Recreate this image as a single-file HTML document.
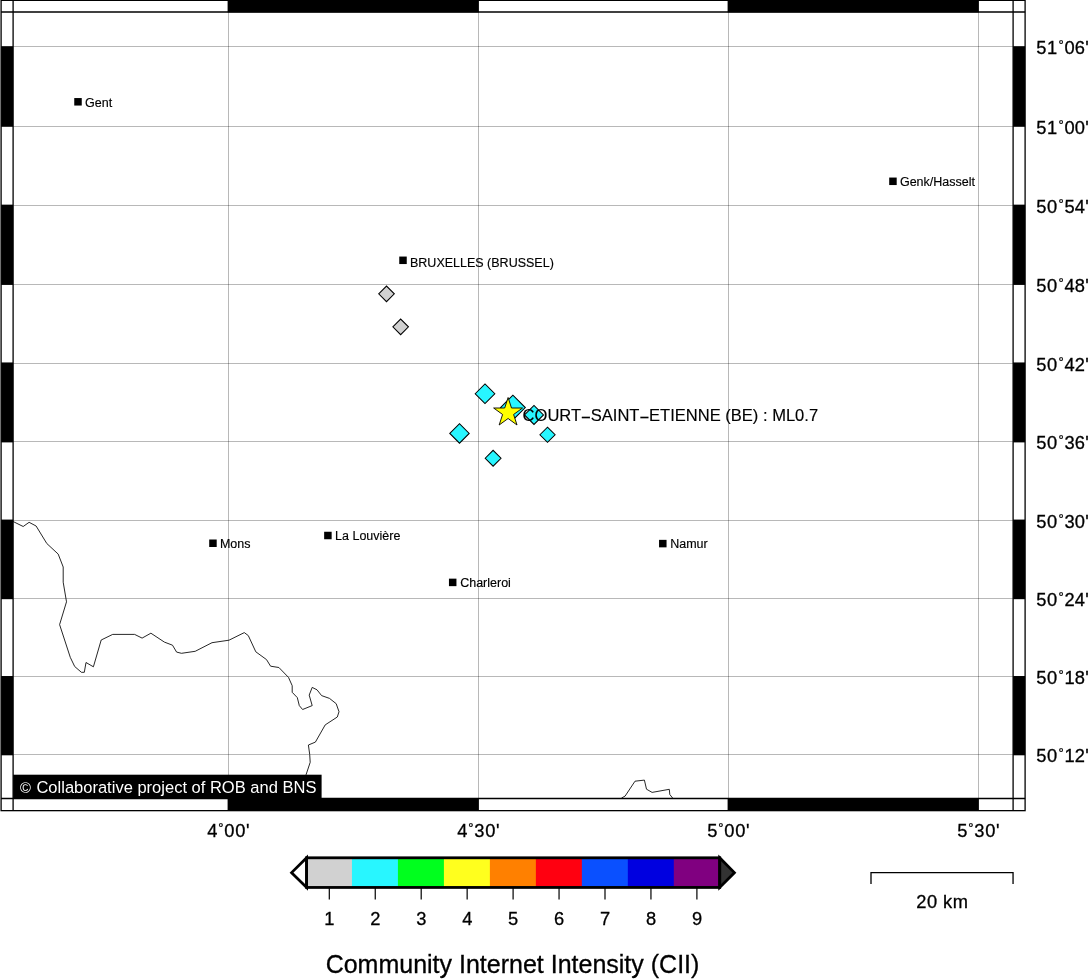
<!DOCTYPE html>
<html lang="en"><head><meta charset="utf-8"><title>Community Internet Intensity map</title>
<style>html,body{margin:0;padding:0;background:#fff;overflow:hidden}svg{display:block}text{font-family:"Liberation Sans",sans-serif;fill:#000}.b{stroke:#000;stroke-width:.3px}.c{stroke:#000;stroke-width:.15px}</style></head><body>
<svg width="1088" height="979" viewBox="0 0 1088 979">
<rect width="1088" height="979" fill="#fff"/>
<g stroke="#000" stroke-opacity="0.28" stroke-width="1" fill="none">
<line x1="13.1" y1="46.50" x2="1013.1" y2="46.50"/>
<line x1="13.1" y1="126.50" x2="1013.1" y2="126.50"/>
<line x1="13.1" y1="205.50" x2="1013.1" y2="205.50"/>
<line x1="13.1" y1="284.50" x2="1013.1" y2="284.50"/>
<line x1="13.1" y1="363.50" x2="1013.1" y2="363.50"/>
<line x1="13.1" y1="441.50" x2="1013.1" y2="441.50"/>
<line x1="13.1" y1="520.50" x2="1013.1" y2="520.50"/>
<line x1="13.1" y1="598.50" x2="1013.1" y2="598.50"/>
<line x1="13.1" y1="676.50" x2="1013.1" y2="676.50"/>
<line x1="13.1" y1="754.50" x2="1013.1" y2="754.50"/>
<line x1="228.50" y1="12.0" x2="228.50" y2="798.5"/>
<line x1="478.50" y1="12.0" x2="478.50" y2="798.5"/>
<line x1="728.50" y1="12.0" x2="728.50" y2="798.5"/>
<line x1="978.50" y1="12.0" x2="978.50" y2="798.5"/>
</g>
<g stroke="#000" stroke-width="0.85" fill="none" stroke-linejoin="round"><polyline points="13.1,521.5 14.1,522.0 23.2,526.5 29.1,522.3 36.1,526.0 46.8,543.5 58.2,554.1 63.2,567.0 63.2,582.2 66.5,601.8 59.6,624.6 70.3,657.4 74.7,666.5 81.4,672.3 84.3,672.3 86.0,662.5 93.4,666.8 101.2,640.0 112.7,634.4 134.6,634.4 142.1,638.1 150.9,633.2 164.4,642.1 172.5,645.2 176.6,652.1 181.5,653.3 195.2,651.3 212.0,642.7 229.0,640.2 244.3,632.6 248.3,635.6 255.8,651.8 266.5,659.6 270.6,666.2 278.9,667.5 288.5,677.4 292.2,685.7 292.2,692.3 297.3,697.6 299.3,705.6 302.6,709.5 312.2,705.6 309.2,695.1 312.2,687.4 317.0,689.8 321.6,695.6 329.5,698.4 336.2,703.7 339.0,711.7 337.3,717.0 325.2,724.9 315.4,742.1 308.4,745.0 309.7,754.4 310.2,762.3 306.1,774.6 305.4,776.7"/><polyline points="621.5,798.0 625.1,796.1 635.0,781.2 644.4,780.1 646.5,789.2 652.1,792.4 669.3,789.3 669.8,794.5 672.6,798.0"/></g>
<rect x="74.25" y="98.05" width="7.5" height="7.5" fill="#000"/>
<text class="c" x="85.00" y="107.40" font-size="12.5">Gent</text>
<rect x="889.20" y="177.55" width="7.5" height="7.5" fill="#000"/>
<text class="c" x="899.95" y="185.90" font-size="12.5">Genk/Hasselt</text>
<rect x="399.25" y="256.55" width="7.5" height="7.5" fill="#000"/>
<text class="c" x="410.00" y="266.60" font-size="12.5">BRUXELLES (BRUSSEL)</text>
<rect x="209.20" y="539.50" width="7.5" height="7.5" fill="#000"/>
<text class="c" x="219.95" y="547.75" font-size="12.5">Mons</text>
<rect x="324.15" y="531.75" width="7.5" height="7.5" fill="#000"/>
<text class="c" x="335.10" y="540.00" font-size="12.5">La Louvière</text>
<rect x="448.95" y="578.65" width="7.5" height="7.5" fill="#000"/>
<text class="c" x="460.20" y="586.80" font-size="12.5">Charleroi</text>
<rect x="659.05" y="539.85" width="7.5" height="7.5" fill="#000"/>
<text class="c" x="670.20" y="548.10" font-size="12.5">Namur</text>
<g stroke="#000" stroke-width="1.05" stroke-linejoin="miter">
<polygon points="378.70,293.85 386.50,286.05 394.30,293.85 386.50,301.65" fill="#d1d1d1"/>
<polygon points="392.85,326.85 400.65,319.05 408.45,326.85 400.65,334.65" fill="#d1d1d1"/>
<polygon points="475.20,393.75 485.00,383.95 494.80,393.75 485.00,403.55" fill="#28f6ff"/>
<polygon points="500.50,407.55 512.90,395.15 525.30,407.55 512.90,419.95" fill="#28f6ff"/>
<polygon points="524.50,414.95 534.00,405.45 543.50,414.95 534.00,424.45" fill="#28f6ff"/>
<polygon points="449.80,433.45 459.50,423.75 469.20,433.45 459.50,443.15" fill="#28f6ff"/>
<polygon points="539.90,434.75 547.50,427.15 555.10,434.75 547.50,442.35" fill="#28f6ff"/>
<polygon points="485.20,458.25 493.10,450.35 501.00,458.25 493.10,466.15" fill="#28f6ff"/>
</g>
<polygon points="508.10,397.50 511.51,408.00 522.56,408.00 513.62,414.49 517.03,425.00 508.10,418.51 499.17,425.00 502.58,414.49 493.64,408.00 504.69,408.00" fill="#ffff00" stroke="#000" stroke-width="0.9"/>
<text class="c" x="522.6" y="421.0" font-size="16.55">COURT<tspan dy="2.4">−</tspan><tspan dy="-2.4">SAINT</tspan><tspan dy="2.4">−</tspan><tspan dy="-2.4">ETIENNE (BE) : ML0.7</tspan></text>
<rect x="13.1" y="774.7" width="308.50" height="23.80" fill="#000"/>
<text x="20.1" y="792.7" font-size="16.53" style="fill:#fff"><tspan font-size="14.8">©</tspan><tspan x="31.85" y="792.9"> Collaborative project of ROB and BNS</tspan></text>
<g fill="#000">
<rect x="227.60" y="0.35" width="251.30" height="12.0"/>
<rect x="227.60" y="798.5" width="251.30" height="12.0"/>
<rect x="727.60" y="0.35" width="251.30" height="12.0"/>
<rect x="727.60" y="798.5" width="251.30" height="12.0"/>
<rect x="1.0999999999999996" y="46.17" width="12.0" height="80.63"/>
<rect x="1013.1" y="46.17" width="12.0" height="80.63"/>
<rect x="1.0999999999999996" y="204.65" width="12.0" height="80.28"/>
<rect x="1013.1" y="204.65" width="12.0" height="80.28"/>
<rect x="1.0999999999999996" y="362.45" width="12.0" height="79.94"/>
<rect x="1013.1" y="362.45" width="12.0" height="79.94"/>
<rect x="1.0999999999999996" y="519.57" width="12.0" height="79.61"/>
<rect x="1013.1" y="519.57" width="12.0" height="79.61"/>
<rect x="1.0999999999999996" y="676.02" width="12.0" height="79.28"/>
<rect x="1013.1" y="676.02" width="12.0" height="79.28"/>
</g>
<g stroke="#000" stroke-width="1.3" fill="none">
<rect x="1.10" y="0.35" width="1024.00" height="810.30"/>
<line x1="1.0999999999999996" y1="12.0" x2="1025.1" y2="12.0"/><line x1="1.0999999999999996" y1="798.5" x2="1025.1" y2="798.5"/>
<line x1="13.1" y1="0.35" x2="13.1" y2="810.65"/><line x1="1013.1" y1="0.35" x2="1013.1" y2="810.65"/>
</g>
<text class="b" x="1036.3" y="53.60" font-size="18.3" letter-spacing="0.65">51<tspan x="1058.5" y="48.70" font-size="13">°</tspan><tspan x="1064.6 1074.85 1085.3" y="53.60">06'</tspan></text>
<text class="b" x="1036.3" y="133.60" font-size="18.3" letter-spacing="0.65">51<tspan x="1058.5" y="128.70" font-size="13">°</tspan><tspan x="1064.6 1074.85 1085.3" y="133.60">00'</tspan></text>
<text class="b" x="1036.3" y="212.60" font-size="18.3" letter-spacing="0.65">50<tspan x="1058.5" y="207.70" font-size="13">°</tspan><tspan x="1064.6 1074.85 1085.3" y="212.60">54'</tspan></text>
<text class="b" x="1036.3" y="291.60" font-size="18.3" letter-spacing="0.65">50<tspan x="1058.5" y="286.70" font-size="13">°</tspan><tspan x="1064.6 1074.85 1085.3" y="291.60">48'</tspan></text>
<text class="b" x="1036.3" y="370.60" font-size="18.3" letter-spacing="0.65">50<tspan x="1058.5" y="365.70" font-size="13">°</tspan><tspan x="1064.6 1074.85 1085.3" y="370.60">42'</tspan></text>
<text class="b" x="1036.3" y="448.60" font-size="18.3" letter-spacing="0.65">50<tspan x="1058.5" y="443.70" font-size="13">°</tspan><tspan x="1064.6 1074.85 1085.3" y="448.60">36'</tspan></text>
<text class="b" x="1036.3" y="527.60" font-size="18.3" letter-spacing="0.65">50<tspan x="1058.5" y="522.70" font-size="13">°</tspan><tspan x="1064.6 1074.85 1085.3" y="527.60">30'</tspan></text>
<text class="b" x="1036.3" y="605.60" font-size="18.3" letter-spacing="0.65">50<tspan x="1058.5" y="600.70" font-size="13">°</tspan><tspan x="1064.6 1074.85 1085.3" y="605.60">24'</tspan></text>
<text class="b" x="1036.3" y="683.60" font-size="18.3" letter-spacing="0.65">50<tspan x="1058.5" y="678.70" font-size="13">°</tspan><tspan x="1064.6 1074.85 1085.3" y="683.60">18'</tspan></text>
<text class="b" x="1036.3" y="761.60" font-size="18.3" letter-spacing="0.65">50<tspan x="1058.5" y="756.70" font-size="13">°</tspan><tspan x="1064.6 1074.85 1085.3" y="761.60">12'</tspan></text>
<text class="b" x="207.20" y="836.8" font-size="18.3" letter-spacing="0.65">4<tspan x="218.20" y="831.9" font-size="13">°</tspan><tspan x="224.34" y="836.8">00'</tspan></text>
<text class="b" x="457.20" y="836.8" font-size="18.3" letter-spacing="0.65">4<tspan x="468.20" y="831.9" font-size="13">°</tspan><tspan x="474.34" y="836.8">30'</tspan></text>
<text class="b" x="707.20" y="836.8" font-size="18.3" letter-spacing="0.65">5<tspan x="718.20" y="831.9" font-size="13">°</tspan><tspan x="724.34" y="836.8">00'</tspan></text>
<text class="b" x="957.20" y="836.8" font-size="18.3" letter-spacing="0.65">5<tspan x="968.20" y="831.9" font-size="13">°</tspan><tspan x="974.34" y="836.8">30'</tspan></text>
<rect x="305.97" y="857.8" width="46.28" height="29.65" fill="#d1d1d1"/>
<rect x="351.95" y="857.8" width="46.28" height="29.65" fill="#28f6ff"/>
<rect x="397.93" y="857.8" width="46.28" height="29.65" fill="#00ff1e"/>
<rect x="443.91" y="857.8" width="46.28" height="29.65" fill="#ffff1e"/>
<rect x="489.89" y="857.8" width="46.28" height="29.65" fill="#ff8000"/>
<rect x="535.87" y="857.8" width="46.28" height="29.65" fill="#ff0010"/>
<rect x="581.85" y="857.8" width="46.28" height="29.65" fill="#0a50ff"/>
<rect x="627.83" y="857.8" width="46.28" height="29.65" fill="#0000e0"/>
<rect x="673.81" y="857.8" width="46.28" height="29.65" fill="#800080"/>
<g stroke="#000" stroke-width="2.8" stroke-linejoin="miter">
<polygon points="306.6,857.8 291.6,872.625 306.6,887.45" fill="#fff"/>
<polygon points="719.70,857.8 734.40,872.625 719.70,887.45" fill="#333"/>
<rect x="306.6" y="857.8" width="413.10" height="29.65" fill="none"/>
</g>
<g stroke="#000" stroke-width="1.2">
<line x1="329.30" y1="887.45" x2="329.30" y2="899.6"/>
<line x1="375.25" y1="887.45" x2="375.25" y2="899.6"/>
<line x1="421.20" y1="887.45" x2="421.20" y2="899.6"/>
<line x1="467.15" y1="887.45" x2="467.15" y2="899.6"/>
<line x1="513.10" y1="887.45" x2="513.10" y2="899.6"/>
<line x1="559.05" y1="887.45" x2="559.05" y2="899.6"/>
<line x1="605.00" y1="887.45" x2="605.00" y2="899.6"/>
<line x1="650.95" y1="887.45" x2="650.95" y2="899.6"/>
<line x1="696.90" y1="887.45" x2="696.90" y2="899.6"/>
</g>
<text class="b" x="329.40" y="924.9" font-size="18.3" text-anchor="middle">1</text>
<text class="b" x="375.35" y="924.9" font-size="18.3" text-anchor="middle">2</text>
<text class="b" x="421.30" y="924.9" font-size="18.3" text-anchor="middle">3</text>
<text class="b" x="467.25" y="924.9" font-size="18.3" text-anchor="middle">4</text>
<text class="b" x="513.20" y="924.9" font-size="18.3" text-anchor="middle">5</text>
<text class="b" x="559.15" y="924.9" font-size="18.3" text-anchor="middle">6</text>
<text class="b" x="605.10" y="924.9" font-size="18.3" text-anchor="middle">7</text>
<text class="b" x="651.05" y="924.9" font-size="18.3" text-anchor="middle">8</text>
<text class="b" x="697.00" y="924.9" font-size="18.3" text-anchor="middle">9</text>
<text class="b" x="512.50" y="972.8" font-size="25" text-anchor="middle">Community Internet Intensity (CII)</text>
<path d="M871.0,884.1 V872.55 H1013.05 V884.1" stroke="#000" stroke-width="1.3" fill="none"/>
<text class="b" x="942.4" y="907.9" font-size="18.3" letter-spacing="0.65" word-spacing="-0.7" text-anchor="middle">20 km</text>
</svg></body></html>
